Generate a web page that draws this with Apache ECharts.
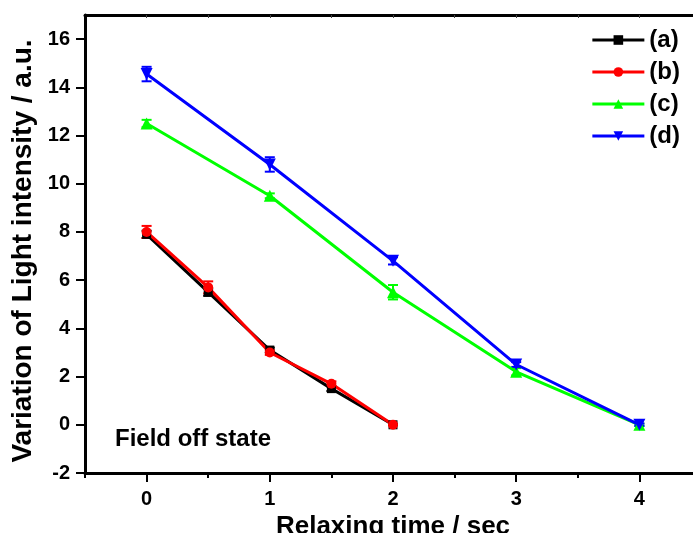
<!DOCTYPE html>
<html>
<head>
<meta charset="utf-8">
<script src="https://cdn.jsdelivr.net/npm/echarts@6/dist/echarts.min.js"></script>
<style>
  html, body { margin: 0; padding: 0; background: #fff; }
  #chart { width: 693px; height: 533px; }
</style>
</head>
<body>
<div id="chart"></div>
<script>
// Relaxing time (s) and light-intensity variation for the four samples
const timesAB = [0, 0.5, 1, 1.5, 2];
const timesCD = [0, 1, 2, 3, 4];

const valuesA = [7.9, 5.5, 3.1, 1.5, 0];
const valuesB = [8.0, 5.7, 3.0, 1.7, 0];
const valuesC = [12.5, 9.5, 5.5, 2.2, 0];
const valuesD = [14.55, 10.8, 6.8, 2.5, 0];

const errorsA = [0.15, 0.15, 0.1, 0.1, 0];
const errorsB = [0.25, 0.25, 0.1, 0.1, 0];
const errorsC = [0.15, 0.1, 0.3, 0.15, 0.05];
const errorsD = [0.3, 0.3, 0.15, 0.1, 0.05];

const seriesNames = ['(a)', '(b)', '(c)', '(d)'];
const colors = ['#000000', '#ff0000', '#00ff00', '#0000ff'];

// Tick positions and labels
const xMajorTicks = [0, 1, 2, 3, 4];
const xMinorTicks = [-0.5, 0.5, 1.5, 2.5, 3.5];
const xTopTicks = [0, 0.5, 1, 1.5, 2, 2.5, 3, 3.5, 4];
const yTicks = [-2, 0, 2, 4, 6, 8, 10, 12, 14, 16];

function pairs(xs, ys) {
  return xs.map((x, i) => [x, ys[i]]);
}

function errorData(xs, ys, es) {
  return xs.map((x, i) => [x, ys[i] - es[i], ys[i] + es[i]]);
}

function errorSeries(color, data) {
  return {
    type: 'custom',
    data: data,
    z: 3,
    silent: true,
    renderItem: function (params, api) {
      const x = api.value(0);
      const lo = api.coord([x, api.value(1)]);
      const hi = api.coord([x, api.value(2)]);
      const half = 5;
      const style = { stroke: color, lineWidth: 2 };
      return {
        type: 'group',
        children: [
          { type: 'line', shape: { x1: lo[0], y1: lo[1], x2: hi[0], y2: hi[1] }, style: style },
          { type: 'line', shape: { x1: lo[0] - half, y1: lo[1], x2: lo[0] + half, y2: lo[1] }, style: style },
          { type: 'line', shape: { x1: hi[0] - half, y1: hi[1], x2: hi[0] + half, y2: hi[1] }, style: style }
        ]
      };
    }
  };
}

function lineSeries(name, color, data, symbol, size, rotate) {
  return {
    type: 'line',
    name: name,
    data: data,
    z: 4,
    symbol: symbol,
    symbolSize: size,
    symbolRotate: rotate || 0,
    showAllSymbol: true,
    lineStyle: { color: color, width: 3 },
    itemStyle: { color: color },
    emphasis: { disabled: true }
  };
}

const chart = echarts.init(document.getElementById('chart'), null, { renderer: 'canvas' });

const fontFamily = '"Liberation Sans", Arial, sans-serif';
const tickFont = { fontFamily: fontFamily, fontWeight: 'bold', fontSize: 20, color: '#000' };

const X_MIN = -0.5;
const X_MAX = 4.5;

chart.setOption({
  animation: false,
  backgroundColor: '#ffffff',
  title: {
    text: 'Field off state',
    left: 115,
    top: 427,
    padding: 0,
    textStyle: { fontFamily: fontFamily, fontWeight: 'bold', fontSize: 24, color: '#000' }
  },
  legend: {
    data: seriesNames,
    orient: 'vertical',
    right: 13,
    top: 28,
    itemWidth: 52,
    itemHeight: 12,
    itemGap: 8,
    padding: 0,
    lineStyle: { width: 3 },
    textStyle: { fontFamily: fontFamily, fontWeight: 'bold', fontSize: 24, color: '#000' },
    selectedMode: false
  },
  grid: { left: 85, top: 15, width: 616, height: 458, outerBoundsMode: 'none', containLabel: false },
  xAxis: [
    {
      type: 'value',
      min: X_MIN,
      max: X_MAX,
      interval: 0.5,
      position: 'bottom',
      name: 'Relaxing time / sec',
      nameLocation: 'middle',
      nameGap: 34,
      nameTextStyle: { fontFamily: fontFamily, fontWeight: 'bold', fontSize: 26, color: '#000' },
      axisLine: { show: true, onZero: false, lineStyle: { color: '#000', width: 3 } },
      axisTick: {
        show: true, inside: false, length: 9, customValues: xMajorTicks,
        lineStyle: { color: '#000', width: 2 }
      },
      axisLabel: Object.assign({ margin: 16, customValues: xMajorTicks }, tickFont),
      splitLine: { show: false }
    },
    {
      type: 'value',
      min: X_MIN,
      max: X_MAX,
      interval: 0.5,
      position: 'bottom',
      axisLine: { show: false, onZero: false },
      axisTick: {
        show: true, inside: false, length: 5, customValues: xMinorTicks,
        lineStyle: { color: '#000', width: 2 }
      },
      axisLabel: { show: false },
      splitLine: { show: false }
    },
    {
      type: 'value',
      min: X_MIN,
      max: X_MAX,
      interval: 0.5,
      position: 'top',
      axisLine: { show: true, onZero: false, lineStyle: { color: '#000', width: 3 } },
      axisTick: {
        show: true, inside: true, length: 3, customValues: xTopTicks,
        lineStyle: { color: '#444', width: 1 }
      },
      axisLabel: { show: false },
      splitLine: { show: false }
    }
  ],
  yAxis: [
    {
      type: 'value',
      min: -2,
      max: 17,
      interval: 2,
      name: 'Variation of Light intensity / a.u.',
      nameLocation: 'middle',
      nameGap: 46,
      nameTextStyle: {
        fontFamily: fontFamily, fontWeight: 'bold', fontSize: 28, color: '#000',
        padding: [0, 14, 0, 0]
      },
      axisLine: { show: true, onZero: false, lineStyle: { color: '#000', width: 3 } },
      axisTick: {
        show: true, inside: false, length: 9, customValues: yTicks,
        lineStyle: { color: '#000', width: 2 }
      },
      axisLabel: Object.assign({ margin: 15, customValues: yTicks }, tickFont),
      splitLine: { show: false }
    }
  ],
  series: [
    lineSeries('(a)', colors[0], pairs(timesAB, valuesA), 'rect', 9),
    lineSeries('(b)', colors[1], pairs(timesAB, valuesB), 'circle', 10),
    lineSeries('(c)', colors[2], pairs(timesCD, valuesC), 'triangle', 12),
    lineSeries('(d)', colors[3], pairs(timesCD, valuesD), 'triangle', 12, 180),
    errorSeries(colors[0], errorData(timesAB, valuesA, errorsA)),
    errorSeries(colors[1], errorData(timesAB, valuesB, errorsB)),
    errorSeries(colors[2], errorData(timesCD, valuesC, errorsC)),
    errorSeries(colors[3], errorData(timesCD, valuesD, errorsD))
  ]
});
</script>
</body>
</html>
